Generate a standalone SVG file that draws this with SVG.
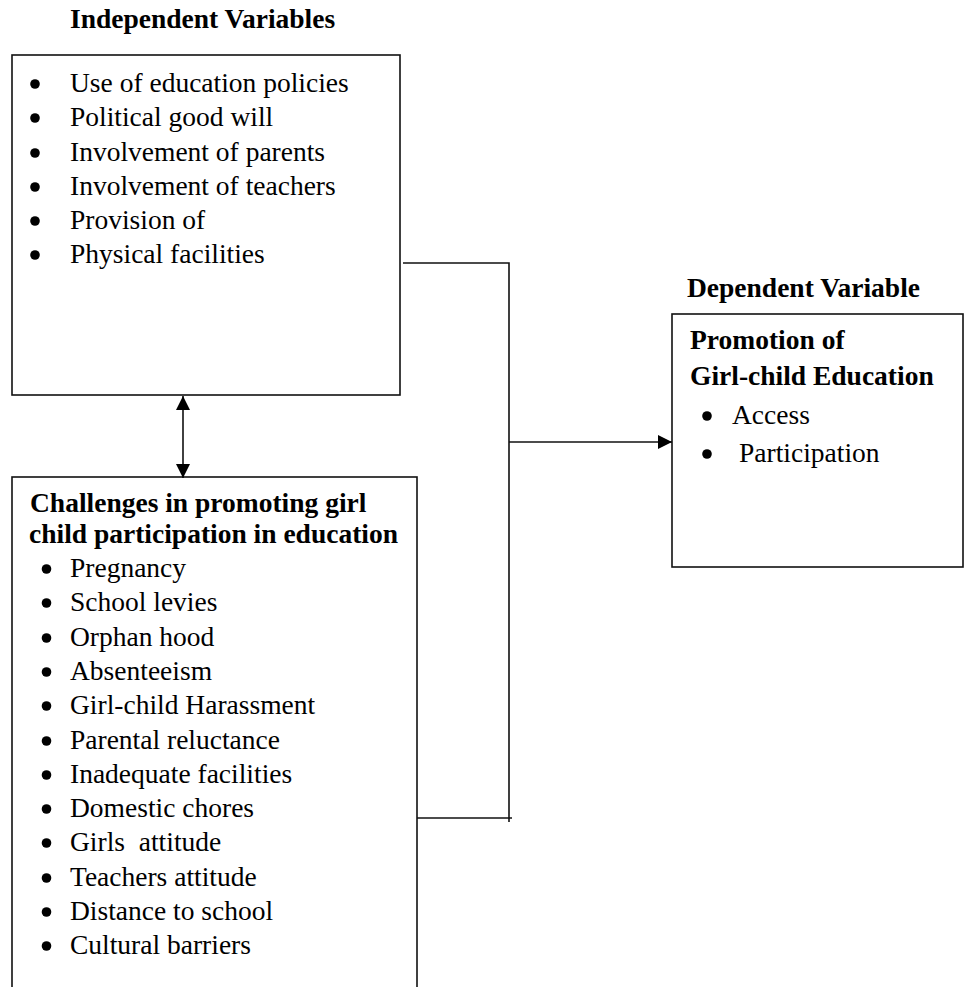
<svg xmlns="http://www.w3.org/2000/svg" width="964" height="987" viewBox="0 0 964 987">
<style>
.box{fill:none;stroke:#111;stroke-width:1.6}
.ln{fill:none;stroke:#111;stroke-width:1.6}
.dot{fill:#000}
text{font-family:"Liberation Serif","Times New Roman",serif;font-size:27.5px;fill:#000}
.b{font-weight:bold}
</style>
<defs>
<marker id="ah" viewBox="0 0 10 10" refX="10" refY="5" markerWidth="14" markerHeight="14" markerUnits="userSpaceOnUse" orient="auto-start-reverse">
<path d="M0,0 L10,5 L0,10 Z" fill="#000"/>
</marker>
</defs>
<rect width="964" height="987" fill="#fff"/>
<g id="independent">
<text class="b" x="70" y="28">Independent Variables</text>
<rect class="box" x="12" y="55" width="388" height="340"/>
<circle class="dot" cx="35" cy="84" r="4.8"/><text x="70" y="92">Use of education policies</text>
<circle class="dot" cx="35" cy="118" r="4.8"/><text x="70" y="126">Political good will</text>
<circle class="dot" cx="35" cy="153" r="4.8"/><text x="70" y="161">Involvement of parents</text>
<circle class="dot" cx="35" cy="187" r="4.8"/><text x="70" y="195">Involvement of teachers</text>
<circle class="dot" cx="35" cy="221" r="4.8"/><text x="70" y="229">Provision of</text>
<circle class="dot" cx="35" cy="255" r="4.8"/><text x="70" y="263">Physical facilities</text>
</g>
<g id="challenges">
<rect class="box" x="12" y="477" width="405" height="530"/>
<text class="b" x="30" y="512">Challenges in promoting girl</text>
<text class="b" x="29" y="543">child participation in education</text>
<circle class="dot" cx="46.5" cy="569" r="4.8"/><text x="70" y="577">Pregnancy</text>
<circle class="dot" cx="46.5" cy="603" r="4.8"/><text x="70" y="611">School levies</text>
<circle class="dot" cx="46.5" cy="638" r="4.8"/><text x="70" y="646">Orphan hood</text>
<circle class="dot" cx="46.5" cy="672" r="4.8"/><text x="70" y="680">Absenteeism</text>
<circle class="dot" cx="46.5" cy="706" r="4.8"/><text x="70" y="714">Girl-child Harassment</text>
<circle class="dot" cx="46.5" cy="741" r="4.8"/><text x="70" y="749">Parental reluctance</text>
<circle class="dot" cx="46.5" cy="775" r="4.8"/><text x="70" y="783">Inadequate facilities</text>
<circle class="dot" cx="46.5" cy="809" r="4.8"/><text x="70" y="817">Domestic chores</text>
<circle class="dot" cx="46.5" cy="843" r="4.8"/><text x="70" y="851" xml:space="preserve">Girls  attitude</text>
<circle class="dot" cx="46.5" cy="878" r="4.8"/><text x="70" y="886">Teachers attitude</text>
<circle class="dot" cx="46.5" cy="912" r="4.8"/><text x="70" y="920">Distance to school</text>
<circle class="dot" cx="46.5" cy="946" r="4.8"/><text x="70" y="954">Cultural barriers</text>
</g>
<g id="dependent">
<text class="b" x="687" y="297">Dependent Variable</text>
<rect class="box" x="672" y="314" width="291" height="253"/>
<text class="b" x="690" y="349">Promotion of</text>
<text class="b" x="690" y="385">Girl-child Education</text>
<circle class="dot" cx="707" cy="416" r="4.8"/><text x="732" y="424">Access</text>
<circle class="dot" cx="707" cy="454" r="4.8"/><text x="739" y="462">Participation</text>
</g>
<g id="connectors">
<polyline class="ln" points="403,263 509,263 509,822"/>
<polyline class="ln" points="417,818 512,818"/>
<line class="ln" x1="509" y1="442" x2="672" y2="442" marker-end="url(#ah)"/>
<line class="ln" x1="183" y1="396" x2="183" y2="478" marker-start="url(#ah)" marker-end="url(#ah)"/>
</g>
</svg>
